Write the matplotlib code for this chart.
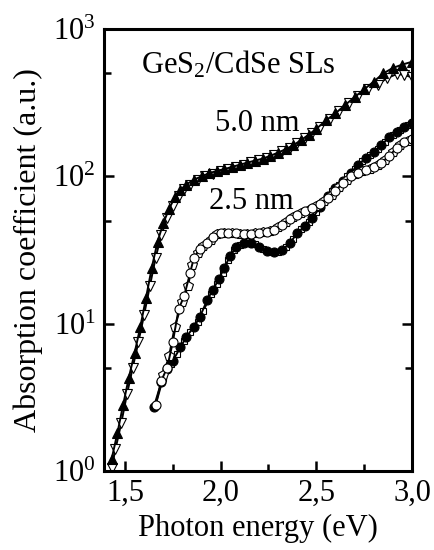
import matplotlib
matplotlib.use("Agg")
import matplotlib.pyplot as plt
from matplotlib.ticker import LogLocator, MultipleLocator, FuncFormatter, LogFormatterMathtext

plt.rcParams["font.family"] = ["Liberation Serif", "DejaVu Serif"]
plt.rcParams["mathtext.fontset"] = "custom"
plt.rcParams["mathtext.rm"] = "Liberation Serif"
plt.rcParams["mathtext.it"] = "Liberation Serif:italic"
plt.rcParams["font.size"] = 22

# 5.0 nm superlattice
e_50_a = [1.43, 1.46, 1.49, 1.52, 1.55, 1.58, 1.61, 1.64, 1.67, 1.70, 1.73, 1.76, 1.79,
          1.82, 1.86, 1.90, 1.94, 1.98, 2.02, 2.06, 2.10, 2.14, 2.18, 2.22, 2.26, 2.30,
          2.34, 2.38, 2.42, 2.46, 2.50, 2.55, 2.60, 2.65, 2.70, 2.75, 2.80, 2.85, 2.90,
          2.95, 3.00]
k_50_a = [1.2, 1.8, 2.8, 4.3, 6.3, 9.5, 15, 24, 36, 48, 60, 72, 81,
          88, 95, 100, 105, 109, 112, 116, 120, 124, 128, 132, 138, 145,
          153, 163, 176, 192, 210, 240, 268, 305, 345, 390, 440, 500, 545,
          575, 600]
e_50_b = [1.43, 1.45, 1.48, 1.51, 1.54, 1.57, 1.60, 1.63, 1.66, 1.69, 1.72, 1.75, 1.78,
          1.81, 1.84, 1.88, 1.92, 1.96, 2.00, 2.04, 2.08, 2.12, 2.16, 2.20, 2.24, 2.28,
          2.32, 2.36, 2.40, 2.44, 2.48, 2.52, 2.57, 2.62, 2.67, 2.72, 2.77, 2.82, 2.87,
          2.92, 2.96, 3.00]
k_50_b = [1.05, 1.4, 2.1, 3.3, 5.0, 7.5, 11.5, 18, 28, 40, 52, 63, 73,
          82, 88, 95, 100, 104, 108, 112, 116, 120, 125, 129, 134, 140,
          148, 157, 168, 182, 198, 215, 245, 280, 315, 350, 390, 420, 465,
          495, 490, 470]

# 2.5 nm superlattice, lower curve
e_25_a = [1.65, 1.69, 1.72, 1.75, 1.79, 1.82, 1.86, 1.89, 1.93, 1.96, 1.99, 2.02, 2.05,
          2.08, 2.12, 2.16, 2.20, 2.24, 2.28, 2.32, 2.36, 2.40, 2.44, 2.48, 2.52, 2.56,
          2.60, 2.64, 2.68, 2.72, 2.76, 2.80, 2.84, 2.88, 2.92, 2.96, 3.00]
k_25_a = [2.7, 4.0, 4.9, 5.6, 6.9, 8.1, 9.5, 11, 14.5, 17, 20, 24, 29,
          33, 35, 35.5, 33, 31, 30.5, 31.5, 35, 41, 46, 52, 62, 74,
          83, 93, 106, 120, 134, 146, 163, 184, 200, 215, 230]
e_25_b = [1.66, 1.70, 1.74, 1.77, 1.81, 1.84, 1.88, 1.91, 1.95, 1.98, 2.01, 2.04, 2.07,
          2.10, 2.14, 2.18, 2.22, 2.26, 2.30, 2.34, 2.38, 2.42, 2.46, 2.50, 2.54, 2.58,
          2.62, 2.66, 2.70, 2.74, 2.78, 2.82, 2.86, 2.90, 2.94, 2.98]
k_25_b = [2.8, 4.3, 5.3, 6.2, 7.6, 8.8, 10.3, 12.2, 16, 18.5, 22, 27, 31.5,
          34, 35.5, 34.5, 32, 30.5, 30.5, 33, 37.5, 44, 49, 57, 68, 79,
          88, 100, 112, 127, 140, 153, 172, 192, 207, 222]

# 2.5 nm superlattice, upper curve
e_25_c = [1.66, 1.69, 1.72, 1.75, 1.78, 1.81, 1.84, 1.86, 1.89, 1.93, 1.96, 2.00, 2.04,
          2.08, 2.12, 2.16, 2.20, 2.24, 2.28, 2.32, 2.36, 2.40, 2.44, 2.48, 2.52, 2.56,
          2.60, 2.64, 2.68, 2.72, 2.76, 2.80, 2.84, 2.88, 2.92, 2.96, 3.00]
k_25_c = [2.8, 4.1, 5.0, 7.5, 12.5, 15.5, 22, 28, 32, 35, 39, 41.5, 41.5,
          41, 40.5, 40.5, 41.5, 42, 43, 47, 51, 55, 58, 61, 65, 71,
          80, 90, 100, 106, 110, 116, 124, 137, 156, 170, 180]
e_25_d = [1.70, 1.73, 1.76, 1.80, 1.83, 1.85, 1.88, 1.91, 1.95, 1.98, 2.02, 2.06, 2.10,
          2.14, 2.18, 2.22, 2.26, 2.30, 2.34, 2.38, 2.42, 2.46, 2.50, 2.54, 2.58, 2.62,
          2.66, 2.70, 2.74, 2.78, 2.82, 2.86, 2.90, 2.94, 2.98]
k_25_d = [4.5, 6.0, 9.5, 14, 18, 25, 30, 33.5, 37, 40.5, 41.5, 41, 40.5,
          40.5, 41, 42, 42.5, 45, 49, 53, 56.5, 59.5, 63, 68, 75, 85,
          95, 103, 108, 113, 120, 130, 146, 163, 175]

fig = plt.figure(figsize=(4.35, 5.5), dpi=100)
ax = fig.add_axes([0.239, 0.144, 0.708, 0.803])

ms = 6.5
ax.plot(e_50_b, k_50_b, "-", color="black", lw=1.4, marker="v", ms=ms,
        mfc="white", mec="black", mew=0.8)
ax.plot(e_50_a, k_50_a, "-", color="black", lw=1.4, marker="^", ms=ms,
        mfc="black", mec="black", mew=0.8)
ax.plot(e_25_b, k_25_b, "-", color="black", lw=1.4, marker="s", ms=ms - 1.5,
        mfc="white", mec="black", mew=0.8)
ax.plot(e_25_a, k_25_a, "-", color="black", lw=1.4, marker="o", ms=ms,
        mfc="black", mec="black", mew=0.8)
ax.plot(e_25_d, k_25_d, "-", color="black", lw=1.4, marker="p", ms=ms + 0.5,
        mfc="white", mec="black", mew=0.8)
ax.plot(e_25_c, k_25_c, "-", color="black", lw=1.4, marker="o", ms=ms,
        mfc="white", mec="black", mew=0.8)

ax.set_yscale("log")
ax.set_xlim(1.39, 3.0)
ax.set_ylim(1, 1000)

ax.xaxis.set_major_locator(MultipleLocator(0.5))
ax.xaxis.set_minor_locator(MultipleLocator(0.25))
ax.xaxis.set_major_formatter(FuncFormatter(lambda v, p: f"{v:.1f}".replace(".", ",")))
ax.yaxis.set_major_locator(LogLocator(base=10, numticks=10))
ax.yaxis.set_minor_locator(LogLocator(base=10, subs=[5], numticks=10))
ax.yaxis.set_major_formatter(LogFormatterMathtext())

ax.tick_params(which="both", direction="in", top=False, right=True, width=1.8)
ax.tick_params(which="major", length=7, pad=6)
ax.tick_params(which="minor", length=5)
for s in ax.spines.values():
    s.set_linewidth(2.2)

ax.set_xlabel("Photon energy (eV)", labelpad=4)
ax.set_ylabel("Absorption coefficient (a.u.)", fontsize=23, labelpad=7)

ax.text(0.12, 0.92, "GeS$_2$/CdSe SLs", transform=ax.transAxes, ha="left", va="center")
ax.text(2.19, 230, "5.0 nm", ha="center", va="center")
ax.text(2.16, 67, "2.5 nm", ha="center", va="center")

fig.savefig("out.png", dpi=100)
